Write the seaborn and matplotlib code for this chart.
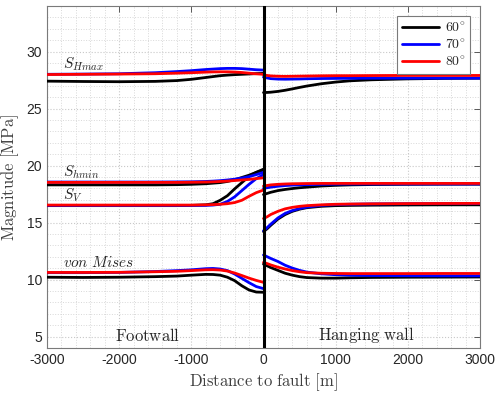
import pandas as pd
import matplotlib
matplotlib.use("Agg")
import matplotlib.pyplot as plt
import seaborn as sns
from matplotlib.lines import Line2D
from matplotlib.ticker import MultipleLocator

# dip angles of the fault
angles = ["60", "70", "80"]
angle_colors = {"60": "#000000", "70": "#0000ff", "80": "#ff0000"}

# distance to fault [m], footwall (left) and hanging wall (right)
fw_dist = [-3000, -2500, -2000, -1500, -1200, -1000, -800, -700, -600, -500, -400, -300, -200, -100, 0]
hw_dist = [0, 50, 100, 200, 300, 400, 500, 600, 800, 1000, 1200, 1500, 2000, 2500, 3000]

# magnitudes [MPa], one row per angle (60, 70, 80)
shmax_fw = [
    [27.40, 27.37, 27.35, 27.38, 27.45, 27.56, 27.72, 27.80, 27.88, 27.93, 27.97, 28.00, 28.03, 28.06, 28.08],
    [28.00, 28.02, 28.05, 28.14, 28.24, 28.32, 28.42, 28.46, 28.50, 28.52, 28.52, 28.50, 28.45, 28.40, 28.37],
    [27.98, 28.00, 28.02, 28.05, 28.10, 28.14, 28.19, 28.21, 28.22, 28.22, 28.20, 28.16, 28.10, 28.04, 28.00],
]
shmax_hw = [
    [26.40, 26.41, 26.43, 26.50, 26.60, 26.72, 26.85, 26.97, 27.17, 27.32, 27.43, 27.52, 27.60, 27.64, 27.66],
    [27.75, 27.68, 27.62, 27.58, 27.57, 27.58, 27.59, 27.61, 27.63, 27.64, 27.65, 27.66, 27.66, 27.66, 27.66],
    [27.95, 27.90, 27.86, 27.83, 27.82, 27.83, 27.84, 27.85, 27.87, 27.88, 27.88, 27.89, 27.90, 27.90, 27.90],
]
shmin_fw = [
    [18.30, 18.30, 18.30, 18.30, 18.32, 18.35, 18.40, 18.45, 18.50, 18.60, 18.75, 18.95, 19.15, 19.40, 19.68],
    [18.55, 18.55, 18.55, 18.55, 18.56, 18.57, 18.60, 18.63, 18.67, 18.73, 18.80, 18.90, 19.02, 19.20, 19.40],
    [18.52, 18.52, 18.52, 18.52, 18.52, 18.53, 18.55, 18.57, 18.60, 18.63, 18.68, 18.73, 18.78, 18.85, 18.92],
]
shmin_hw = [
    [17.45, 17.55, 17.65, 17.80, 17.90, 17.98, 18.05, 18.10, 18.20, 18.26, 18.30, 18.33, 18.35, 18.36, 18.36],
    [18.00, 18.05, 18.10, 18.18, 18.24, 18.28, 18.30, 18.32, 18.35, 18.37, 18.38, 18.38, 18.38, 18.38, 18.38],
    [18.20, 18.25, 18.30, 18.35, 18.38, 18.40, 18.41, 18.42, 18.43, 18.43, 18.43, 18.43, 18.43, 18.43, 18.43],
]
sv_fw = [
    [16.48, 16.48, 16.48, 16.48, 16.48, 16.50, 16.55, 16.65, 16.95, 17.35, 17.95, 18.50, 19.05, 19.40, 19.60],
    [16.50, 16.50, 16.50, 16.50, 16.50, 16.50, 16.50, 16.53, 16.60, 16.85, 17.25, 17.80, 18.35, 18.85, 19.20],
    [16.53, 16.53, 16.53, 16.53, 16.53, 16.53, 16.55, 16.57, 16.60, 16.65, 16.75, 16.95, 17.30, 17.62, 17.85],
]
sv_hw = [
    [14.20, 14.45, 14.75, 15.30, 15.70, 15.98, 16.17, 16.30, 16.42, 16.48, 16.50, 16.52, 16.54, 16.55, 16.55],
    [14.27, 14.55, 14.85, 15.40, 15.80, 16.05, 16.22, 16.35, 16.50, 16.57, 16.60, 16.63, 16.65, 16.66, 16.66],
    [15.35, 15.50, 15.70, 15.98, 16.20, 16.33, 16.42, 16.48, 16.55, 16.60, 16.62, 16.64, 16.66, 16.67, 16.68],
]
vm_fw = [
    [10.20, 10.18, 10.20, 10.25, 10.30, 10.38, 10.45, 10.44, 10.38, 10.20, 9.90, 9.45, 9.08, 8.90, 8.88],
    [10.60, 10.60, 10.62, 10.70, 10.78, 10.85, 10.95, 10.97, 10.92, 10.78, 10.48, 10.10, 9.72, 9.38, 9.20],
    [10.62, 10.62, 10.63, 10.68, 10.72, 10.78, 10.85, 10.86, 10.83, 10.74, 10.57, 10.35, 10.12, 9.92, 9.75],
]
vm_hw = [
    [11.35, 11.20, 11.05, 10.80, 10.55, 10.38, 10.25, 10.17, 10.12, 10.12, 10.15, 10.18, 10.20, 10.21, 10.22],
    [12.15, 12.00, 11.85, 11.58, 11.25, 11.00, 10.80, 10.65, 10.50, 10.42, 10.38, 10.35, 10.33, 10.32, 10.32],
    [11.50, 11.40, 11.28, 11.08, 10.92, 10.78, 10.68, 10.60, 10.55, 10.53, 10.52, 10.52, 10.52, 10.53, 10.53],
]

quantities = {
    "shmax": (shmax_fw, shmax_hw),
    "shmin": (shmin_fw, shmin_hw),
    "sv": (sv_fw, sv_hw),
    "vm": (vm_fw, vm_hw),
}

rows = []
for qname, (fw, hw) in quantities.items():
    for i, ang in enumerate(angles):
        for side, xs, ys in [("fw", fw_dist, fw[i]), ("hw", hw_dist, hw[i])]:
            for x, y in zip(xs, ys):
                rows.append({"distance": x, "magnitude": y, "angle": ang,
                             "curve": f"{qname}_{side}_{ang}"})
df = pd.DataFrame(rows)

sns.set_style("white")
plt.rcParams["font.family"] = ["Liberation Sans", "DejaVu Sans"]
plt.rcParams["mathtext.fontset"] = "cm"
plt.rcParams["axes.unicode_minus"] = False

fig = plt.figure(figsize=(5, 3.94), dpi=100)
ax = fig.add_axes([0.094, 0.117, 0.866, 0.868])

for ang in angles:
    sns.lineplot(data=df[df["angle"] == ang], x="distance", y="magnitude",
                 units="curve", estimator=None, sort=False, color=angle_colors[ang],
                 lw=2.0, legend=False, ax=ax, zorder=3)

ax.axvline(0, color="black", lw=2.2, zorder=4)

ax.set_xlim(-3000, 3000)
ax.set_ylim(4, 34)
ax.xaxis.set_major_locator(MultipleLocator(1000))
ax.xaxis.set_minor_locator(MultipleLocator(200))
ax.yaxis.set_major_locator(MultipleLocator(5))
ax.yaxis.set_minor_locator(MultipleLocator(1))
ax.grid(which="major", color="#c8c8c8", ls=":", lw=0.8)
ax.grid(which="minor", color="#d8d8d8", ls=":", lw=0.7)
ax.set_axisbelow(True)

ax.tick_params(which="major", direction="in", top=True, right=True, length=4,
               width=0.6, color="#404040", labelsize=10, labelcolor="#262626")
ax.tick_params(which="minor", length=0)
for sp in ax.spines.values():
    sp.set_color("#7a7a7a")
    sp.set_linewidth(0.8)

ax.set_xlabel(r"$\mathrm{Distance\ to\ fault\ [m]}$", fontsize=12, color="#404040", labelpad=3)
ax.set_ylabel(r"$\mathrm{Magnitude\ [MPa]}$", fontsize=12, color="#404040", labelpad=4)

ax.text(-2780, 28.9, r"$S_{Hmax}$", fontsize=11, va="center", ha="left")
ax.text(-2780, 19.4, r"$S_{hmin}$", fontsize=11, va="center", ha="left")
ax.text(-2780, 17.4, r"$S_V$", fontsize=11, va="center", ha="left")
ax.text(-2780, 11.5, r"$von\ Mises$", fontsize=11, va="center", ha="left")
ax.text(-1600, 5.1, r"$\mathrm{Footwall}$", fontsize=12, va="center", ha="center")
ax.text(1430, 5.1, r"$\mathrm{Hanging\ wall}$", fontsize=12, va="center", ha="center")

handles = [Line2D([], [], color=angle_colors[a], lw=2.0) for a in angles]
labels = [rf"${a}^{{\circ}}$" for a in angles]
leg = ax.legend(handles, labels, loc="upper right", fontsize=10, frameon=True,
                fancybox=False, framealpha=1, edgecolor="#7a7a7a", handlelength=2.7,
                borderaxespad=0.7, labelspacing=0.2, handletextpad=0.4,
                borderpad=0.35)
leg.get_frame().set_linewidth(0.8)

fig.savefig("out.png", dpi=100)
